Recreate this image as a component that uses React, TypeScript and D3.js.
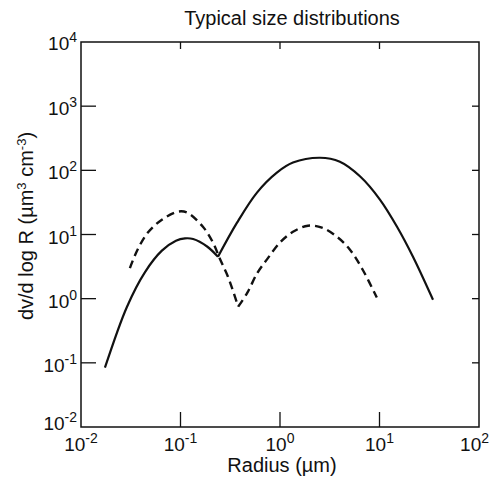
import React, { useEffect, useRef } from 'react';
import * as d3 from 'd3';

// values: [radius µm, dv/dlogR]
const solidFine: [number, number][] = [
  [0.0174, 0.084], [0.029, 0.75], [0.044, 2.6], [0.065, 5.6], [0.09, 8.0], [0.111, 8.7],
  [0.134, 8.5], [0.185, 6.5], [0.238, 4.5],
];
const solidCoarse: [number, number][] = [
  [0.238, 4.5], [0.37, 15.3], [0.587, 45], [0.93, 92], [1.35, 132], [2.52, 157],
  [4.0, 136], [6.4, 80], [10.1, 35], [15, 13.2], [21.7, 4.5], [34.5, 0.96],
];
const dashedFine: [number, number][] = [
  [0.031, 3.0], [0.037, 5.8], [0.047, 10.7], [0.065, 17], [0.094, 22.7],
  [0.116, 22], [0.168, 13.2], [0.212, 7.5], [0.25, 4.1], [0.3, 2.2], [0.38, 0.75],
];
const dashedCoarse: [number, number][] = [
  [0.38, 0.75], [0.47, 1.24], [0.59, 2.5], [0.74, 4.1], [1.0, 7.5], [1.35, 11],
  [1.91, 13.7], [2.64, 12.8], [3.74, 9.2], [5.05, 5.8], [6.8, 2.8], [9.4, 1.04],
];

const xTicks = [0.01, 0.1, 1, 10, 100];
const yTicks = [0.01, 0.1, 1, 10, 100, 1000, 10000];

const FONT = '"Liberation Sans", Arial, Helvetica, sans-serif';

const App = () => {
  const svgRef = useRef<SVGSVGElement | null>(null);
  const width = 491;
  const height = 481;

  useEffect(() => {
    const svg = d3.select(svgRef.current);
    svg.selectAll('*').remove();

    const left = 81, right = 479, top = 42, bottom = 427;
    const x = d3.scaleLog().domain([0.01, 100]).range([left, right]);
    const y = d3.scaleLog().domain([0.01, 10000]).range([bottom, top]);

    // frame
    svg.append('rect')
      .attr('x', left).attr('y', top)
      .attr('width', right - left).attr('height', bottom - top)
      .attr('fill', 'none').attr('stroke', '#111').attr('stroke-width', 1.5);

    // ticks (inward)
    const tickG = svg.append('g').attr('stroke', '#111').attr('stroke-width', 1.3);
    xTicks.slice(1, -1).forEach(t => {
      tickG.append('line').attr('x1', x(t)).attr('x2', x(t)).attr('y1', bottom).attr('y2', bottom - 15);
      tickG.append('line').attr('x1', x(t)).attr('x2', x(t)).attr('y1', top).attr('y2', top + 7);
    });
    yTicks.slice(1, -1).forEach(t => {
      tickG.append('line').attr('x1', left).attr('x2', left + 15).attr('y1', y(t)).attr('y2', y(t));
      tickG.append('line').attr('x1', right).attr('x2', right - 7).attr('y1', y(t)).attr('y2', y(t));
    });

    const exp = (t: number) => String(Math.round(Math.log10(t)));

    // x tick labels (last one kept inside the page)
    xTicks.forEach((t, i) => {
      const last = i === xTicks.length - 1;
      const tx = svg.append('text')
        .attr('x', last ? 489 : x(t)).attr('y', 451)
        .attr('text-anchor', last ? 'end' : 'middle')
        .style('font-family', FONT).style('font-size', '19px').attr('fill', '#111');
      tx.append('tspan').text('10');
      tx.append('tspan').attr('dy', -8).style('font-size', '14px').text(exp(t));
    });

    // y tick labels
    yTicks.forEach((t, i) => {
      const off = i === 0 ? 3 : i === yTicks.length - 1 ? 8 : 9;
      const ty = svg.append('text')
        .attr('x', 77).attr('y', y(t) + off)
        .attr('text-anchor', 'end')
        .style('font-family', FONT).style('font-size', '19px').attr('fill', '#111');
      ty.append('tspan').text('10');
      ty.append('tspan').attr('dy', -8).style('font-size', '14px').text(exp(t));
    });

    // title
    svg.append('text')
      .attr('x', 292).attr('y', 25)
      .attr('text-anchor', 'middle')
      .style('font-family', FONT).style('font-size', '20px').attr('fill', '#111')
      .text('Typical size distributions');

    // x axis title
    svg.append('text')
      .attr('x', 282).attr('y', 472)
      .attr('text-anchor', 'middle')
      .style('font-family', FONT).style('font-size', '20px').attr('fill', '#111')
      .text('Radius (µm)');

    // y axis title
    const yl = svg.append('text')
      .attr('transform', 'translate(33, 226) rotate(-90)')
      .attr('text-anchor', 'middle')
      .style('font-family', FONT).style('font-size', '20px').attr('fill', '#111');
    yl.append('tspan').text('dv/d log R (µm');
    yl.append('tspan').attr('dy', -7).style('font-size', '13px').text('3');
    yl.append('tspan').attr('dy', 7).text(' cm');
    yl.append('tspan').attr('dy', -7).style('font-size', '13px').text('-3');
    yl.append('tspan').attr('dy', 7).text(')');

    const line = d3.line<[number, number]>()
      .x(d => x(d[0]))
      .y(d => y(d[1]))
      .curve(d3.curveCatmullRom.alpha(0.5));

    [solidFine, solidCoarse].forEach(seg => {
      svg.append('path').attr('d', line(seg))
        .attr('fill', 'none').attr('stroke', '#111').attr('stroke-width', 2.2)
        .attr('stroke-linejoin', 'miter');
    });
    [dashedFine, dashedCoarse].forEach(seg => {
      svg.append('path').attr('d', line(seg))
        .attr('fill', 'none').attr('stroke', '#111').attr('stroke-width', 2.4)
        .attr('stroke-dasharray', '8,5');
    });
  }, []);

  return (
    <svg
      ref={svgRef}
      width={width}
      height={height}
      style={{ position: 'absolute', left: 0, top: 0, background: '#fff' }}
    />
  );
};

export default App;
